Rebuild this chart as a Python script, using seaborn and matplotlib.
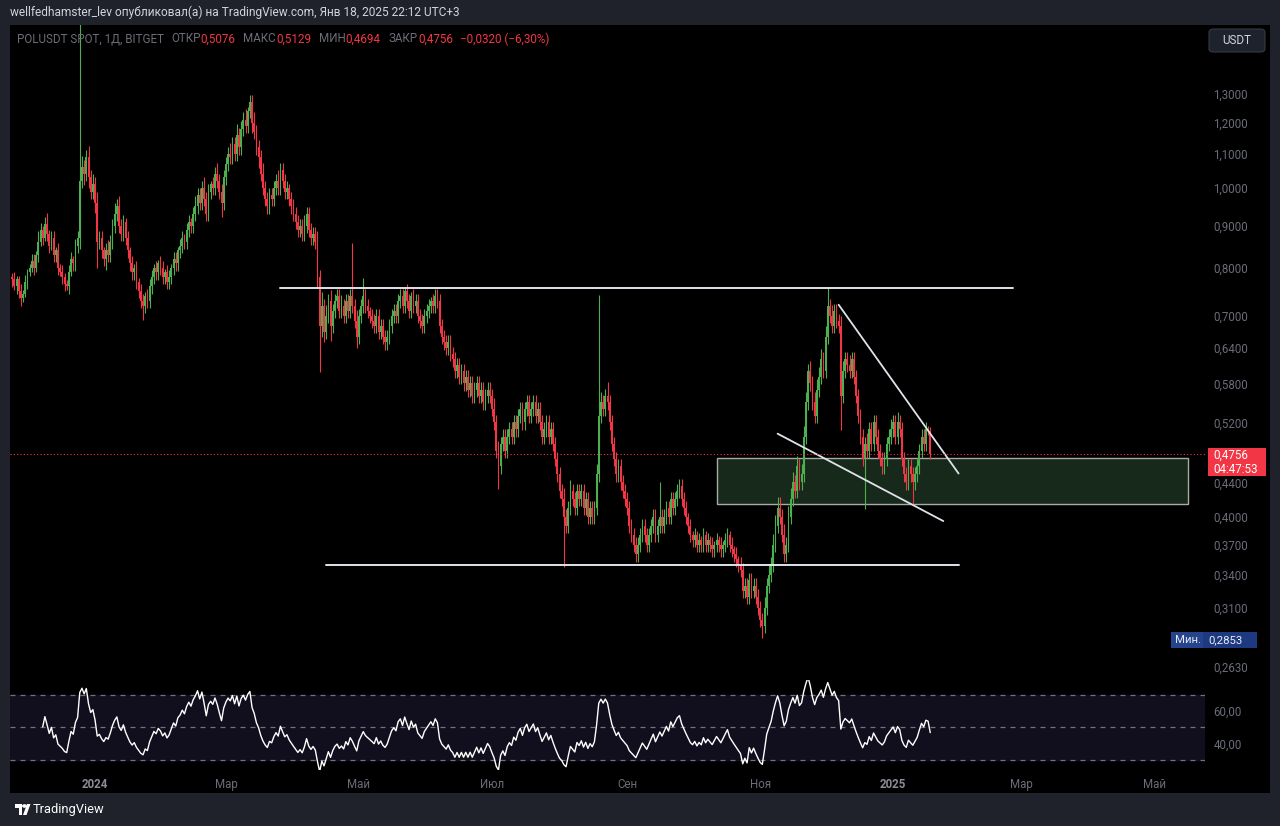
import numpy as np
import pandas as pd
import matplotlib
matplotlib.use("Agg")
import matplotlib.pyplot as plt
import matplotlib.dates as mdates
from matplotlib.patches import Rectangle, FancyBboxPatch, Polygon, Circle
from matplotlib.ticker import NullLocator
import seaborn as sns

# ---------------- data ----------------
start_date = "2023-11-24"
first_open = 0.780
closes = [
    0.775, 0.760, 0.775, 0.750, 0.735, 0.745, 0.770, 0.790, 0.800, 0.815,
    0.800, 0.830, 0.860, 0.890, 0.870, 0.905, 0.880, 0.850, 0.870, 0.830,
    0.840, 0.800, 0.790, 0.780, 0.765, 0.760, 0.790, 0.820, 0.810, 0.850,
    0.870, 1.020, 1.060, 1.040, 1.090, 1.030, 0.990, 1.010, 0.960, 0.860,
    0.870, 0.840, 0.820, 0.840, 0.830, 0.860, 0.900, 0.930, 0.950, 0.900,
    0.880, 0.910, 0.870, 0.840, 0.810, 0.790, 0.800, 0.770, 0.750, 0.730,
    0.720, 0.740, 0.730, 0.760, 0.780, 0.800, 0.790, 0.810, 0.800, 0.780,
    0.790, 0.770, 0.780, 0.800, 0.820, 0.810, 0.840, 0.850, 0.870, 0.860,
    0.890, 0.910, 0.900, 0.930, 0.950, 0.980, 0.960, 1.000, 0.970, 0.930,
    0.990, 1.010, 1.000, 1.040, 1.020, 0.990, 0.960, 1.030, 1.070, 1.100,
    1.090, 1.130, 1.100, 1.160, 1.120, 1.180, 1.210, 1.190, 1.240, 1.270,
    1.200, 1.170, 1.120, 1.090, 1.040, 1.000, 0.970, 0.950, 0.980, 0.970,
    1.000, 1.020, 1.000, 1.050, 1.020, 0.990, 1.000, 0.970, 0.950, 0.930,
    0.910, 0.890, 0.900, 0.880, 0.900, 0.930, 0.890, 0.870, 0.880, 0.860,
    0.780, 0.680, 0.720, 0.670, 0.700, 0.730, 0.680, 0.710, 0.730, 0.740,
    0.710, 0.720, 0.700, 0.730, 0.710, 0.740, 0.720, 0.690, 0.660, 0.700,
    0.720, 0.740, 0.720, 0.710, 0.700, 0.690, 0.680, 0.700, 0.670, 0.680,
    0.660, 0.650, 0.660, 0.680, 0.700, 0.710, 0.700, 0.730, 0.740, 0.720,
    0.750, 0.730, 0.710, 0.740, 0.720, 0.730, 0.700, 0.690, 0.680, 0.700,
    0.710, 0.720, 0.730, 0.720, 0.740, 0.730, 0.680, 0.660, 0.650, 0.640,
    0.650, 0.630, 0.620, 0.600, 0.610, 0.590, 0.600, 0.580, 0.590, 0.570,
    0.580, 0.560, 0.570, 0.580, 0.560, 0.570, 0.550, 0.560, 0.570, 0.560,
    0.540, 0.520, 0.480, 0.460, 0.490, 0.500, 0.480, 0.500, 0.510, 0.500,
    0.520, 0.510, 0.530, 0.540, 0.520, 0.540, 0.550, 0.530, 0.540, 0.550,
    0.530, 0.540, 0.520, 0.500, 0.510, 0.520, 0.500, 0.510, 0.490, 0.470,
    0.450, 0.430, 0.420, 0.400, 0.390, 0.410, 0.430, 0.420, 0.410, 0.430,
    0.420, 0.430, 0.410, 0.420, 0.400, 0.410, 0.400, 0.410, 0.450, 0.530,
    0.550, 0.540, 0.560, 0.550, 0.520, 0.490, 0.470, 0.450, 0.460, 0.440,
    0.430, 0.420, 0.410, 0.390, 0.380, 0.370, 0.360, 0.370, 0.380, 0.390,
    0.380, 0.370, 0.380, 0.390, 0.400, 0.380, 0.390, 0.400, 0.390, 0.400,
    0.410, 0.400, 0.420, 0.410, 0.420, 0.430, 0.435, 0.420, 0.410, 0.400,
    0.390, 0.380, 0.375, 0.380, 0.370, 0.375, 0.370, 0.380, 0.370, 0.375,
    0.370, 0.365, 0.370, 0.375, 0.370, 0.365, 0.370, 0.375, 0.380, 0.370,
    0.365, 0.360, 0.355, 0.350, 0.345, 0.325, 0.330, 0.320, 0.335, 0.325,
    0.330, 0.320, 0.310, 0.300, 0.295, 0.310, 0.330, 0.340, 0.350, 0.370,
    0.390, 0.410, 0.400, 0.380, 0.360, 0.370, 0.400, 0.420, 0.440, 0.430,
    0.460, 0.440, 0.450, 0.500, 0.550, 0.600, 0.580, 0.550, 0.530, 0.570,
    0.590, 0.620, 0.600, 0.660, 0.720, 0.700, 0.680, 0.710, 0.690, 0.680,
    0.560, 0.600, 0.620, 0.610, 0.600, 0.620, 0.590, 0.560, 0.530, 0.500,
    0.470, 0.490, 0.480, 0.510, 0.490, 0.520, 0.500, 0.480, 0.470, 0.460,
    0.470, 0.490, 0.500, 0.510, 0.520, 0.500, 0.520, 0.510, 0.470, 0.450,
    0.440, 0.460, 0.450, 0.440, 0.450, 0.460, 0.480, 0.500, 0.490, 0.510,
    0.5076, 0.4756,
]
wick_up_pct = [
    1, 2, 1, 1, 2, 1, 2, 1, 1, 2,
    2, 1, 3, 2, 1, 2, 3, 1, 2, 2,
    1, 2, 1, 2, 1, 1, 2, 2, 1, 2,
    2, 57, 3, 2, 2, 3, 2, 3, 2, 3,
    2, 2, 1, 2, 3, 2, 2, 3, 2, 3,
    2, 2, 1, 2, 1, 2, 1, 2, 1, 2,
    2, 1, 2, 2, 2, 1, 2, 1, 2, 2,
    1, 2, 2, 1, 2, 2, 1, 2, 2, 1,
    2, 2, 1, 2, 3, 2, 2, 2, 3, 2,
    2, 1, 2, 2, 3, 2, 2, 2, 2, 2,
    3, 2, 2, 3, 2, 2, 2, 3, 1, 2,
    2, 3, 2, 2, 2, 3, 2, 2, 2, 2,
    2, 2, 3, 2, 2, 2, 2, 1, 2, 2,
    2, 2, 2, 2, 3, 2, 2, 2, 2, 2,
    3, 2, 4, 2, 3, 2, 3, 2, 2, 2,
    2, 3, 2, 2, 2, 2, 16, 2, 3, 2,
    2, 5, 2, 2, 1, 2, 2, 2, 2, 2,
    2, 2, 2, 2, 2, 2, 2, 2, 2, 2,
    1, 2, 2, 1, 2, 2, 2, 2, 2, 2,
    2, 2, 1, 2, 2, 2, 2, 2, 2, 2,
    2, 2, 2, 2, 2, 2, 2, 2, 2, 2,
    2, 2, 2, 2, 2, 2, 2, 2, 2, 2,
    2, 3, 2, 3, 2, 2, 2, 2, 2, 2,
    2, 2, 2, 2, 2, 2, 2, 2, 2, 2,
    2, 2, 2, 2, 2, 2, 2, 2, 2, 2,
    2, 2, 2, 3, 2, 2, 3, 2, 2, 2,
    2, 2, 2, 2, 2, 2, 2, 2, 3, 40,
    3, 2, 2, 4, 2, 2, 2, 2, 2, 2,
    2, 2, 2, 2, 2, 2, 2, 2, 2, 2,
    2, 2, 2, 2, 2, 2, 2, 10, 2, 2,
    2, 2, 2, 2, 2, 2, 2, 2, 2, 2,
    1, 2, 1, 2, 1, 2, 1, 2, 1, 2,
    1, 2, 1, 2, 1, 2, 1, 2, 2, 1,
    2, 1, 2, 1, 2, 2, 2, 2, 2, 2,
    2, 2, 2, 2, 2, 3, 2, 3, 2, 3,
    3, 3, 3, 2, 3, 2, 3, 3, 3, 2,
    3, 2, 3, 3, 3, 2, 3, 2, 3, 3,
    3, 3, 2, 3, 5, 2, 3, 2, 2, 2,
    3, 3, 2, 2, 3, 2, 2, 2, 2, 2,
    2, 2, 3, 2, 2, 2, 2, 2, 2, 2,
    2, 2, 2, 3, 2, 2, 3, 2, 2, 2,
    2, 2, 2, 2, 2, 2, 2, 2, 2, 2,
    1, 1.045,
]
wick_dn_pct = [
    2, 1, 2, 2, 2, 1, 1, 2, 1, 1,
    2, 1, 2, 1, 2, 1, 2, 2, 1, 2,
    2, 2, 1, 2, 2, 1, 2, 1, 2, 2,
    2, 3, 2, 3, 2, 3, 2, 2, 3, 7,
    2, 2, 2, 3, 2, 2, 2, 2, 2, 2,
    2, 2, 2, 2, 2, 2, 2, 2, 2, 2,
    4, 2, 2, 2, 2, 2, 2, 2, 2, 2,
    2, 2, 2, 2, 2, 2, 2, 2, 2, 2,
    2, 2, 2, 2, 2, 2, 2, 2, 2, 2,
    2, 2, 2, 2, 2, 2, 4, 2, 2, 2,
    2, 2, 2, 2, 2, 2, 2, 2, 2, 2,
    3, 2, 2, 3, 2, 2, 2, 2, 2, 2,
    2, 2, 2, 2, 2, 2, 2, 2, 2, 2,
    2, 2, 2, 2, 2, 2, 2, 2, 2, 2,
    3, 12, 3, 3, 2, 2, 4, 2, 2, 2,
    2, 2, 2, 2, 2, 2, 2, 2, 3, 2,
    2, 2, 2, 2, 2, 2, 2, 2, 2, 2,
    2, 2, 2, 2, 2, 2, 2, 2, 2, 2,
    2, 2, 2, 2, 2, 2, 2, 2, 2, 2,
    2, 2, 2, 2, 2, 2, 2, 2, 2, 2,
    2, 2, 2, 2, 2, 2, 2, 2, 2, 2,
    2, 2, 2, 2, 2, 2, 2, 2, 2, 2,
    2, 2, 2, 6, 2, 2, 2, 2, 2, 2,
    2, 2, 2, 2, 2, 2, 2, 2, 2, 2,
    2, 2, 2, 2, 2, 2, 2, 2, 2, 2,
    2, 2, 2, 13, 2, 2, 2, 2, 2, 2,
    2, 2, 2, 2, 2, 2, 2, 2, 2, 2,
    2, 2, 2, 2, 2, 2, 2, 2, 2, 2,
    2, 2, 2, 2, 2, 2, 2, 2, 2, 2,
    2, 2, 2, 2, 2, 2, 2, 2, 2, 2,
    2, 2, 2, 2, 2, 2, 2, 2, 2, 2,
    2, 2, 2, 2, 2, 2, 2, 2, 2, 2,
    2, 2, 2, 2, 2, 2, 2, 2, 2, 2,
    2, 2, 2, 2, 2, 2, 2, 2, 2, 2,
    2, 2, 2, 2, 3.29, 2, 2, 2, 2, 2,
    2, 2, 2, 2, 2, 2, 2, 2, 2, 2,
    2, 2, 2, 2, 2, 2, 2, 2, 2, 2,
    2, 2, 2, 2, 2, 2, 2, 2, 2, 2,
    9, 2, 2, 2, 2, 2, 2, 2, 2, 2,
    2, 13, 2, 2, 2, 2, 2, 2, 2, 2,
    2, 2, 2, 2, 2, 2, 2, 2, 2, 2,
    2, 2, 2, 6, 2, 2, 2, 2, 2, 2,
    1, 1.304,
]

price_ticks = [1.3, 1.2, 1.1, 1.0, 0.9, 0.8, 0.7, 0.64, 0.58, 0.52, 0.44, 0.40, 0.37, 0.34, 0.31, 0.263]
month_ticks = ["2024-01-01", "2024-03-01", "2024-05-01", "2024-07-01", "2024-09-01",
               "2024-11-01", "2025-01-01", "2025-03-01", "2025-05-01"]
month_labels = ["2024", "Мар", "Май", "Июл", "Сен", "Ноя", "2025", "Мар", "Май"]
rsi_ticks = [60, 40]
rsi_levels = [70, 50, 30]

top_level = (0.757, "2024-03-26", "2025-02-25")
bottom_level = (0.349, "2024-04-16", "2025-01-31")
trend_upper = (("2024-12-07", 0.722), ("2025-01-31", 0.451))
trend_lower = (("2024-11-09", 0.504), ("2025-01-24", 0.395))
zone = ("2024-10-12", "2025-05-16", 0.414, 0.471)

header_text = "wellfedhamster_lev опубликовал(а) на TradingView.com, Янв 18, 2025 22:12 UTC+3"
symbol_text = "POLUSDT SPOT, 1Д, BITGET"
timer_text = "04:47:53"

assert len(closes) == len(wick_up_pct) == len(wick_dn_pct), (len(closes), len(wick_up_pct), len(wick_dn_pct))

# ---------------- derived ----------------
dates = pd.date_range(start_date, periods=len(closes), freq="D")
c = np.array(closes)
o = np.array([first_open] + closes[:-1])
hi = np.maximum(o, c) * (1 + np.array(wick_up_pct) / 100.0)
lo = np.minimum(o, c) * (1 - np.array(wick_dn_pct) / 100.0)
xd = mdates.date2num(dates)

s = pd.Series(c)
d = s.diff()
ag = d.clip(lower=0).ewm(alpha=1 / 14, adjust=False, min_periods=14).mean()
al = (-d.clip(upper=0)).ewm(alpha=1 / 14, adjust=False, min_periods=14).mean()
rsi = 100 - 100 / (1 + ag / al)
rsi_df = pd.DataFrame({"date": dates, "rsi": rsi}).dropna()

def fmt(v, n=4):
    return f"{v:.{n}f}".replace(".", ",")

# ---------------- style ----------------
W, H = 1280, 826
FRAME = "#1f222b"
GREEN = "#4caf50"
RED = "#f23645"
AXTXT = "#6a6d78"
sns.set_theme(style="dark", rc={"axes.facecolor": "black", "figure.facecolor": FRAME})
plt.rcParams["font.family"] = ["Roboto", "DejaVu Sans"]

fig = plt.figure(figsize=(W / 100, H / 100), dpi=100, facecolor=FRAME)

def fx(x):
    return x / W

def fy(y):
    return 1 - y / H

def frect(x0, y0, x1, y1, **kw):
    r = Rectangle((fx(x0), fy(y1)), (x1 - x0) / W, (y1 - y0) / H, transform=fig.transFigure, **kw)
    fig.add_artist(r)
    return r

# black chart canvas
frect(10, 25, 1270, 793, facecolor="black", edgecolor="none", zorder=0)

ax = fig.add_axes([fx(10), fy(680), 1195 / W, 655 / H])
ax2 = fig.add_axes([fx(10), fy(770), 1195 / W, 90 / H], sharex=ax)
for a in (ax, ax2):
    a.set_facecolor("black")
    for sp in a.spines.values():
        sp.set_visible(False)
    a.grid(False)

# ---------------- main pane ----------------
ax.set_yscale("log")
up = c >= o
cols = np.where(up, GREEN, RED)
ax.vlines(xd, lo, hi, colors=cols, linewidth=0.8, zorder=3)
body_bot = np.minimum(o, c)
body_h = np.maximum(np.abs(c - o), c * 0.002)
ax.bar(xd, body_h, bottom=body_bot, width=0.8, color=cols, linewidth=0, zorder=4)

xmin = mdates.date2num(pd.Timestamp("2023-11-23"))
xmax = mdates.date2num(pd.Timestamp("2025-05-24"))
ax.set_xlim(xmin, xmax)
ax.set_ylim(0.2536, 1.575)

ax.yaxis.tick_right()
ax.set_yticks(price_ticks)
ax.yaxis.set_minor_locator(NullLocator())
ax.set_yticklabels([fmt(v) for v in price_ticks])
ax.tick_params(axis="y", length=0, pad=6, labelsize=8.3, labelcolor=AXTXT)
ax.tick_params(axis="x", bottom=False, labelbottom=False)

# drawings
LINEC = "#e0e3eb"
def dn(sdate):
    return mdates.date2num(pd.Timestamp(sdate))

ax.plot([dn(top_level[1]), dn(top_level[2])], [top_level[0]] * 2, color=LINEC, lw=1.4, zorder=5)
ax.plot([dn(bottom_level[1]), dn(bottom_level[2])], [bottom_level[0]] * 2, color=LINEC, lw=1.4, zorder=5)
ax.plot([dn(trend_upper[0][0]), dn(trend_upper[1][0])], [trend_upper[0][1], trend_upper[1][1]],
        color=LINEC, lw=1.3, zorder=5)
ax.plot([dn(trend_lower[0][0]), dn(trend_lower[1][0])], [trend_lower[0][1], trend_lower[1][1]],
        color=LINEC, lw=1.3, zorder=5)
zx0, zx1 = dn(zone[0]), dn(zone[1])
ax.add_patch(Rectangle((zx0, zone[2]), zx1 - zx0, zone[3] - zone[2],
                       facecolor="#16291a", edgecolor="#a8aaa8", lw=1.0, zorder=2))
ax.axhline(c[-1], color=RED, lw=0.8, ls=(0, (1, 2)), zorder=6)

# ---------------- RSI pane ----------------
ax2.axhspan(30, 70, color="#110e1d", zorder=0)
for lv in rsi_levels:
    ax2.axhline(lv, color="#70737d", lw=0.9, ls=(0, (4, 4)), zorder=1)
sns.lineplot(data=rsi_df, x="date", y="rsi", ax=ax2, color="white", lw=1.0, zorder=3)
ax2.set_ylim(23.8, 79.2)
ax2.yaxis.tick_right()
ax2.set_yticks(rsi_ticks)
ax2.set_yticklabels([fmt(v, 2) for v in rsi_ticks])
ax2.tick_params(axis="y", length=0, pad=6, labelsize=8.3, labelcolor=AXTXT)
ax2.set_xlabel("")
ax2.set_ylabel("")
ax2.set_xticks([dn(m) for m in month_ticks])
ax2.set_xticklabels(month_labels)
ax2.tick_params(axis="x", length=0, pad=6, labelsize=8.3, labelcolor=AXTXT)
for lab in ax2.get_xticklabels():
    if lab.get_text().isdigit():
        lab.set_color("#8a8d96")
        lab.set_fontweight("bold")
ax2.set_xlim(xmin, xmax)

# ---------------- header and labels ----------------
fig.text(fx(10), fy(12), header_text, color="#d1d4dc", fontsize=8.6, va="center", ha="left")

renderer = fig.canvas.get_renderer()
GRAY = "#6b6e78"
pieces = [(symbol_text, GRAY, 7), ("ОТКР", GRAY, 0), (fmt(o[-1]), RED, 8), ("МАКС", GRAY, 0),
          (fmt(hi[-1]), RED, 8), ("МИН", GRAY, 0), (fmt(lo[-1]), RED, 8), ("ЗАКР", GRAY, 0),
          (fmt(c[-1]), RED, 7),
          (f"−{fmt(abs(c[-1] - o[-1]))} (−{fmt(abs(c[-1] / o[-1] - 1) * 100, 2)}%)", RED, 0)]
xpos = 17
for txt, col, gap in pieces:
    t = fig.text(fx(xpos), fy(39), txt, color=col, fontsize=8.4, va="center", ha="left")
    bb = t.get_window_extent(renderer=renderer)
    xpos += bb.width + gap

# USDT button
fig.add_artist(FancyBboxPatch((fx(1209), fy(52)), 56 / W, 23 / H, boxstyle="round,pad=0,rounding_size=0.004",
                              transform=fig.transFigure, facecolor="#1e222d", edgecolor="#363a45", lw=0.8))
fig.text(fx(1237), fy(40), "USDT", color="#d1d4dc", fontsize=8.4, ha="center", va="center")

# last price label
frect(1208, 448, 1266, 476, facecolor=RED, edgecolor="none")
fig.text(fx(1213), fy(455.5), fmt(c[-1]), color="white", fontsize=8.4, ha="left", va="center")
fig.text(fx(1213), fy(469), timer_text, color="white", fontsize=8.4, ha="left", va="center")

# min label
frect(1171, 632, 1203, 648, facecolor="#26448c", edgecolor="none")
frect(1203, 632, 1257, 648, facecolor="#1d3a80", edgecolor="none")
fig.text(fx(1175), fy(640), "Мин.", color="#e8ecf5", fontsize=8.2, ha="left", va="center")
fig.text(fx(1208), fy(640), fmt(lo.min()), color="#e8ecf5", fontsize=8.2, ha="left", va="center")

# TradingView logo
fig.add_artist(Polygon([[fx(15), fy(804)], [fx(22), fy(804)], [fx(22), fy(815)], [fx(18.5), fy(815)],
                        [fx(18.5), fy(807.5)], [fx(15), fy(807.5)]], closed=True,
                       transform=fig.transFigure, facecolor="white", edgecolor="none"))
fig.add_artist(Circle((fx(24.5), fy(806)), 1.7 / W, transform=fig.transFigure, facecolor="white"))
fig.add_artist(Polygon([[fx(27), fy(804)], [fx(30.5), fy(804)], [fx(26.5), fy(815)], [fx(23), fy(815)]],
                       closed=True, transform=fig.transFigure, facecolor="white", edgecolor="none"))
fig.text(fx(33), fy(810), "TradingView", color="white", fontsize=9.3, ha="left", va="center")

fig.savefig("out.png", dpi=100, facecolor=FRAME)
